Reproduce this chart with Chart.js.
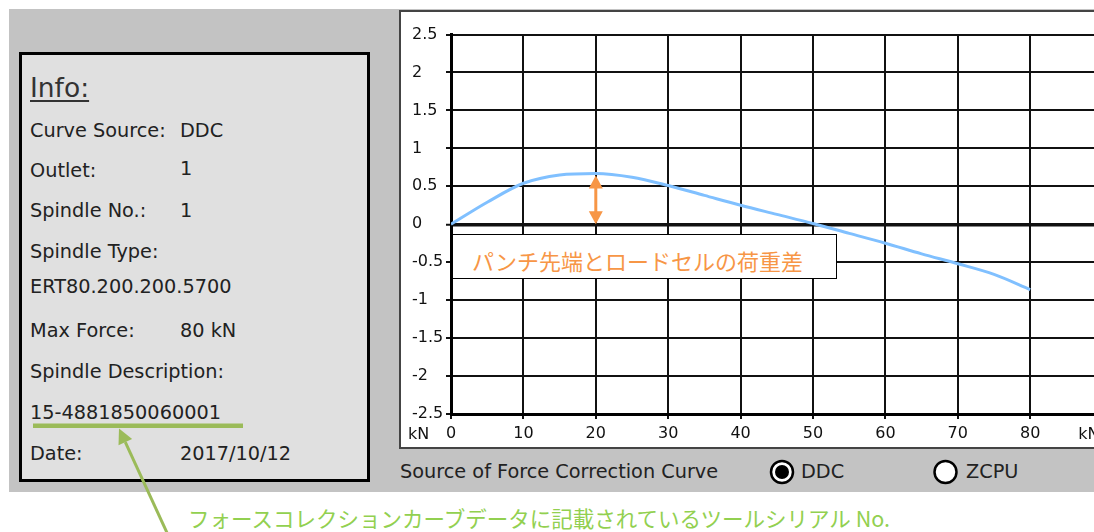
<!DOCTYPE html>
<html>
<head>
<meta charset="utf-8">
<script src="https://cdn.jsdelivr.net/npm/chart.js@4.4.1/dist/chart.umd.min.js"></script>
<style>
  html, body { margin: 0; padding: 0; width: 1094px; height: 532px; overflow: hidden; background: #fff; }
  body { position: relative; font-family: "DejaVu Sans", sans-serif; color: #222; }
  .abs { position: absolute; white-space: nowrap; line-height: 1; }
  .t { font-size: 19.3px; }
  #bg { position: absolute; left: 9px; top: 9px; width: 1085px; height: 483px; background: #c3c3c3; }
  #info { position: absolute; left: 19px; top: 52px; width: 351px; height: 430px; box-sizing: border-box;
          border: 3px solid #000; background: #e0e0e0; }
  #panel { position: absolute; left: 399px; top: 10px; width: 760px; height: 439px; box-sizing: border-box;
           border: 2px solid #444; background: #fff; overflow: hidden; }
  #chart { position: absolute; left: 0; top: 0; }
  #note { position: absolute; left: 452px; top: 234px; width: 385px; height: 45px; box-sizing: border-box;
          border: 1px solid #000; background: #fff; }
  .cjk { font-family: "Noto Sans CJK JP", sans-serif; }
  #overlay { position: absolute; left: 0; top: 0; pointer-events: none; }
</style>
</head>
<body>
<div id="bg"></div>
<div id="info"></div>

<div class="abs" style="left:30px;top:74.6px;font-size:26.5px;color:#333;text-decoration:underline;text-decoration-thickness:1.5px;text-underline-offset:3px;">Info:</div>
<div class="abs t" style="left:30px;top:121px;">Curve Source:</div>
<div class="abs t" style="left:180px;top:121px;">DDC</div>
<div class="abs t" style="left:30px;top:161px;">Outlet:</div>
<div class="abs t" style="left:180px;top:159px;">1</div>
<div class="abs t" style="left:30px;top:201px;">Spindle No.:</div>
<div class="abs t" style="left:180px;top:201px;">1</div>
<div class="abs t" style="left:30px;top:242px;">Spindle Type:</div>
<div class="abs t" style="left:30px;top:277px;">ERT80.200.200.5700</div>
<div class="abs t" style="left:30px;top:321px;">Max Force:</div>
<div class="abs t" style="left:180px;top:321px;">80 kN</div>
<div class="abs t" style="left:30px;top:362px;">Spindle Description:</div>
<div class="abs t" style="left:30px;top:403px;">15-4881850060001</div>
<div class="abs t" style="left:30px;top:444px;">Date:</div>
<div class="abs t" style="left:180px;top:444px;">2017/10/12</div>

<div id="panel"><canvas id="chart" width="720" height="435"></canvas></div>

<div id="note"></div>
<div class="abs cjk" style="left:472px;top:249px;font-size:22px;color:#f79646;">パンチ先端とロードセルの荷重差</div>

<div class="abs t" style="left:400px;top:462px;">Source of Force Correction Curve</div>
<div class="abs t" style="left:801px;top:462px;">DDC</div>
<div class="abs t" style="left:966px;top:462px;">ZCPU</div>

<div class="abs cjk" style="left:188px;top:507px;font-size:21.5px;color:#92d050;">フォースコレクションカーブデータに記載されているツールシリアル No.</div>

<svg id="overlay" width="1094" height="532" viewBox="0 0 1094 532">
  <!-- radio buttons -->
  <circle cx="782" cy="472" r="11" fill="#fff" stroke="#000" stroke-width="2.5"/>
  <circle cx="782" cy="472" r="7" fill="#000"/>
  <circle cx="945.5" cy="472" r="11" fill="#fff" stroke="#000" stroke-width="2.5"/>
  <!-- serial number callout -->
  <rect x="33" y="423.5" width="210" height="4.5" fill="#9bbb59"/>
  <line x1="168.5" y1="536" x2="125.3" y2="442.1" stroke="#9bbb59" stroke-width="3"/>
  <polygon points="119,428.5 132.1,438.9 118.5,445.3" fill="#9bbb59"/>
</svg>

<script>
// Force correction curve: load-cell force (kN) vs. correction (kN)
const forceKN    = [0, 5, 10, 15, 20, 25, 30, 35, 40, 45, 50, 55, 60, 65, 70, 75, 80];
const correction = [0, 0.29, 0.54, 0.65, 0.67, 0.62, 0.51, 0.38, 0.25, 0.13, 0.01, -0.12, -0.25, -0.39, -0.52, -0.66, -0.86];
const xTicks = [0, 10, 20, 30, 40, 50, 60, 70, 80];
const yTicks = [2.5, 2, 1.5, 1, 0.5, 0, -0.5, -1, -1.5, -2, -2.5];
const axisUnit = 'kN';
const markedForce = 20;   // force at which the tip / load-cell difference is marked

const points = forceKN.map((x, i) => ({ x, y: correction[i] }));

const tickFont = { family: 'DejaVu Sans', size: 16 };

// Draws the unit labels next to the x axis and the double-headed difference arrow
const extrasPlugin = {
  id: 'extras',
  afterDatasetsDraw(chart) {
    const { ctx, scales: { x, y } } = chart;
    const ax = x.getPixelForValue(markedForce);
    const yTop = y.getPixelForValue(correction[forceKN.indexOf(markedForce)]) + 2;
    const yBot = y.getPixelForValue(0);
    const head = 13, half = 7;
    ctx.save();
    ctx.strokeStyle = '#f79646';
    ctx.fillStyle = '#f79646';
    ctx.lineWidth = 3;
    ctx.beginPath();
    ctx.moveTo(ax, yTop + head - 1);
    ctx.lineTo(ax, yBot - head + 1);
    ctx.stroke();
    ctx.beginPath();
    ctx.moveTo(ax, yTop); ctx.lineTo(ax - half, yTop + head); ctx.lineTo(ax + half, yTop + head); ctx.closePath();
    ctx.fill();
    ctx.beginPath();
    ctx.moveTo(ax, yBot); ctx.lineTo(ax - half, yBot - head); ctx.lineTo(ax + half, yBot - head); ctx.closePath();
    ctx.fill();
    ctx.restore();
  },
  afterDraw(chart) {
    const { ctx, scales: { x }, chartArea } = chart;
    ctx.save();
    ctx.font = '16px "DejaVu Sans"';
    ctx.fillStyle = '#111';
    ctx.textBaseline = 'middle';
    ctx.textAlign = 'left';
    const ty = chartArea.bottom + 20.5;
    ctx.fillText(axisUnit, 7, ty);
    ctx.fillText(axisUnit, x.getPixelForValue(xTicks[xTicks.length - 1]) + 48, ty);
    ctx.restore();
  }
};

new Chart(document.getElementById('chart'), {
  type: 'line',
  data: {
    datasets: [{
      data: points,
      borderColor: '#80c0ff',
      borderWidth: 3,
      pointRadius: 0,
      fill: false,
      tension: 0.4,
      cubicInterpolationMode: 'monotone'
    }]
  },
  options: {
    responsive: false,
    animation: false,
    devicePixelRatio: 1,
    layout: { padding: { left: 11, top: 22.5, right: 18.4, bottom: 0 } },
    plugins: { legend: { display: false }, tooltip: { enabled: false } },
    scales: {
      x: {
        type: 'linear',
        min: 0,
        max: 90,
        afterBuildTicks(scale) { scale.ticks = xTicks.concat([90]).map(v => ({ value: v })); },
        afterFit(scale) { scale.height = 33; },
        grid: { color: '#111', lineWidth: 2, tickLength: 5, tickWidth: 2, tickColor: '#111' },
        border: { color: '#000', width: 3 },
        ticks: {
          font: tickFont, color: '#111', padding: 5, maxRotation: 0, autoSkip: false,
          callback: v => (xTicks.includes(v) ? String(v) : '')
        }
      },
      y: {
        min: -2.5,
        max: 2.5,
        afterBuildTicks(scale) { scale.ticks = yTicks.map(v => ({ value: v })); },
        afterFit(scale) { scale.width = 39; },
        grid: {
          color: '#111',
          lineWidth: c => (c.tick && c.tick.value === 0 ? 3.5 : 2),
          tickLength: 5, tickWidth: 2, tickColor: '#111'
        },
        border: { color: '#000', width: 3 },
        ticks: {
          font: tickFont, color: '#111', crossAlign: 'far', autoSkip: false,
          callback: v => String(v)
        }
      }
    }
  },
  plugins: [extrasPlugin]
});
</script>
</body>
</html>
